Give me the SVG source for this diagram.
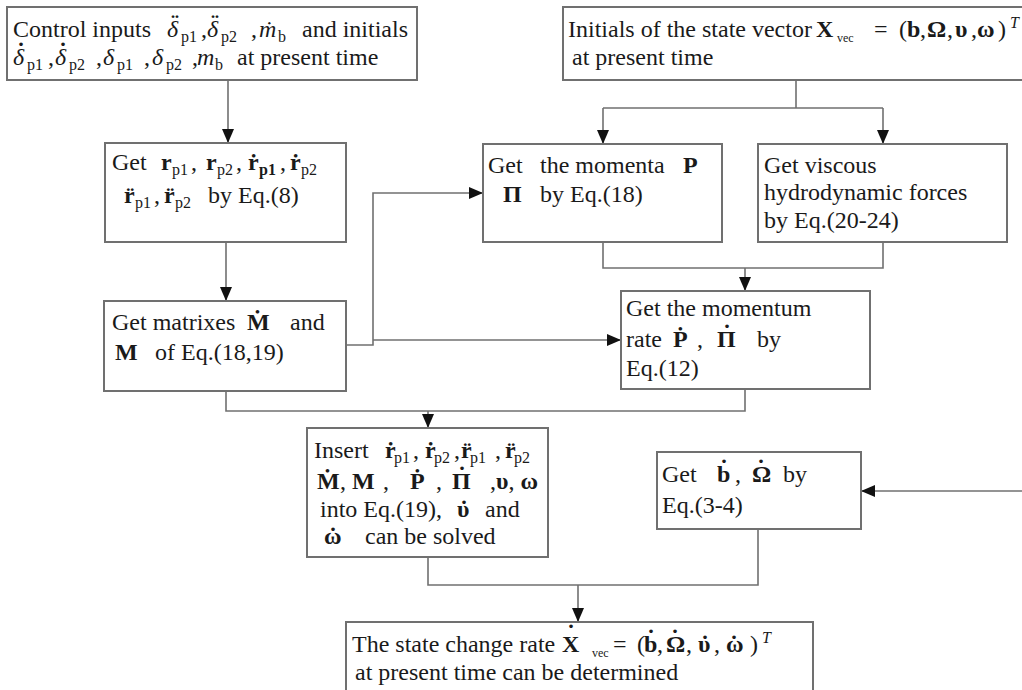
<svg xmlns="http://www.w3.org/2000/svg" width="1022" height="690" viewBox="0 0 1022 690" xml:space="preserve">
<style>
.box{fill:#fff;stroke:#707070;stroke-width:2}
.conn{fill:none;stroke:#707070;stroke-width:1.6}
text{font-family:"Liberation Serif","Times New Roman",serif;font-size:24px;fill:#1a1a1a}
.b{font-weight:bold}
.i{font-style:italic}
.s{font-size:16px}
.t{font-size:12px}
.acc{text-anchor:middle;font-weight:bold}
</style>
<defs>
<marker id="ah" viewBox="0 0 14 12" refX="14" refY="6" markerWidth="14" markerHeight="12" markerUnits="userSpaceOnUse" orient="auto"><path d="M0,0 L14,6 L0,12 z" fill="#111"/></marker>
</defs>
<g id="connectors">
<path class="conn" d="M228,80 V143" marker-end="url(#ah)"/>
<path class="conn" d="M796,80 V108 M603,108 H883"/>
<path class="conn" d="M603,108 V144" marker-end="url(#ah)"/>
<path class="conn" d="M883,108 V144" marker-end="url(#ah)"/>
<path class="conn" d="M226,242 V301" marker-end="url(#ah)"/>
<path class="conn" d="M346,345 H373 V193 H483" marker-end="url(#ah)"/>
<path class="conn" d="M373,340 H621" marker-end="url(#ah)"/>
<path class="conn" d="M603,242 V268 H883 V242"/>
<path class="conn" d="M745,268 V291" marker-end="url(#ah)"/>
<path class="conn" d="M226,391 V411 H745 V389"/>
<path class="conn" d="M428,411 V428" marker-end="url(#ah)"/>
<path class="conn" d="M1022,491 H861" marker-end="url(#ah)"/>
<path class="conn" d="M428,557 V585 H758 V529"/>
<path class="conn" d="M578,585 V622" marker-end="url(#ah)"/>
</g>
<g id="n1">
<rect class="box" x="7" y="7" width="410" height="73"/>
<text y="37"><tspan x="13">Control inputs</tspan><tspan x="167" class="i">δ</tspan><tspan x="181" class="s" dy="5">p1</tspan><tspan x="201" dy="-5">,</tspan><tspan x="207" class="i">δ</tspan><tspan x="221" class="s" dy="5">p2</tspan><tspan x="251" dy="-5">,</tspan><tspan x="259" class="i">ṁ</tspan><tspan x="278" class="s" dy="5">b</tspan><tspan x="302" dy="-5">and initials</tspan><tspan class="acc" x="175" y="31">¨</tspan><tspan class="acc" x="215" y="31">¨</tspan></text>
<text y="65"><tspan x="13" class="i">δ</tspan><tspan x="27" class="s" dy="5">p1</tspan><tspan x="48" dy="-5">,</tspan><tspan x="55" class="i">δ</tspan><tspan x="69" class="s" dy="5">p2</tspan><tspan x="96" dy="-5">,</tspan><tspan x="103" class="i">δ</tspan><tspan x="117" class="s" dy="5">p1</tspan><tspan x="144" dy="-5">,</tspan><tspan x="152" class="i">δ</tspan><tspan x="166" class="s" dy="5">p2</tspan><tspan x="192" dy="-5">,</tspan><tspan x="197" class="i">m</tspan><tspan x="215" class="s" dy="5">b</tspan><tspan x="237" dy="-5">at present time</tspan><tspan class="acc" x="21" y="59">˙</tspan><tspan class="acc" x="63" y="59">˙</tspan></text>
</g>
<g id="n2">
<rect class="box" x="563" y="7" width="470" height="73"/>
<text y="37"><tspan x="568">Initials of the state vector</tspan><tspan x="816" class="b">X</tspan><tspan x="837" class="t" dy="5">vec</tspan><tspan x="874" dy="-5">=</tspan><tspan x="899">(</tspan><tspan x="907" class="b">b</tspan><tspan x="920">,</tspan><tspan x="927" class="b">Ω</tspan><tspan x="947">,</tspan><tspan x="955" class="b">υ</tspan><tspan x="971">,</tspan><tspan x="977" class="b">ω</tspan><tspan x="998">)</tspan><tspan x="1010" class="i s" dy="-9">T</tspan></text>
<text y="65"><tspan x="572">at present time</tspan></text>
</g>
<g id="n3">
<rect class="box" x="105" y="143" width="241" height="99"/>
<text y="170"><tspan x="112">Get</tspan><tspan x="161" class="b">r</tspan><tspan x="172" class="s" dy="5">p1</tspan><tspan x="191" dy="-5">,</tspan><tspan x="206" class="b">r</tspan><tspan x="217" class="s" dy="5">p2</tspan><tspan x="236" dy="-5">,</tspan><tspan x="248" class="b">ṙ</tspan><tspan x="259" class="s b" dy="5">p1</tspan><tspan x="280" dy="-5">,</tspan><tspan x="290" class="b">ṙ</tspan><tspan x="301" class="s" dy="5">p2</tspan></text>
<text y="203"><tspan x="124" class="b">r̈</tspan><tspan x="135" class="s" dy="5">p1</tspan><tspan x="154" dy="-5">,</tspan><tspan x="164" class="b">r̈</tspan><tspan x="175" class="s" dy="5">p2</tspan><tspan x="208" dy="-5">by Eq.(8)</tspan></text>
</g>
<g id="n4">
<rect class="box" x="104" y="301" width="242" height="90"/>
<text y="330"><tspan x="112">Get matrixes</tspan><tspan x="247" class="b">Ṁ</tspan><tspan x="290">and</tspan></text>
<text y="360"><tspan x="115" class="b">M</tspan><tspan x="155">of Eq.(18,19)</tspan></text>
</g>
<g id="n5">
<rect class="box" x="483" y="144" width="239" height="98"/>
<text y="173"><tspan x="488">Get</tspan><tspan x="540">the momenta</tspan><tspan x="683" class="b">P</tspan></text>
<text y="202"><tspan x="503" class="b">Π</tspan><tspan x="540">by Eq.(18)</tspan></text>
</g>
<g id="n6">
<rect class="box" x="758" y="144" width="249" height="98"/>
<text x="764" y="173">Get viscous</text>
<text x="764" y="200">hydrodynamic forces</text>
<text x="764" y="228">by Eq.(20-24)</text>
</g>
<g id="n7">
<rect class="box" x="621" y="291" width="249" height="98"/>
<text x="626" y="316">Get the momentum</text>
<text y="347"><tspan x="626">rate</tspan><tspan x="673" class="b">Ṗ</tspan><tspan x="697">,</tspan><tspan x="717" class="b">Π</tspan><tspan x="757">by</tspan><tspan class="acc" x="727" y="341">˙</tspan></text>
<text x="626" y="376">Eq.(12)</text>
</g>
<g id="n8">
<rect class="box" x="307" y="428" width="241" height="129"/>
<text y="458"><tspan x="314">Insert</tspan><tspan x="385" class="b">ṙ</tspan><tspan x="394" class="s" dy="5">p1</tspan><tspan x="413" dy="-5">,</tspan><tspan x="425" class="b">ṙ</tspan><tspan x="434" class="s" dy="5">p2</tspan><tspan x="454" dy="-5">,</tspan><tspan x="461" class="b">r̈</tspan><tspan x="470" class="s" dy="5">p1</tspan><tspan x="495" dy="-5">,</tspan><tspan x="505" class="b">r̈</tspan><tspan x="514" class="s" dy="5">p2</tspan></text>
<text y="489"><tspan x="317" class="b">Ṁ</tspan><tspan x="340">,</tspan><tspan x="352" class="b">M</tspan><tspan x="383">,</tspan><tspan x="410" class="b">Ṗ</tspan><tspan x="436">,</tspan><tspan x="452" class="b">Π</tspan><tspan x="490">,</tspan><tspan class="b">υ</tspan><tspan>,</tspan><tspan class="b"> ω</tspan><tspan class="acc" x="462" y="483">˙</tspan></text>
<text y="517"><tspan x="320">into Eq.(19),</tspan><tspan x="457" class="b">υ</tspan><tspan x="485">and</tspan><tspan class="acc" x="464" y="517">˙</tspan></text>
<text y="544"><tspan x="324" class="b">ω</tspan><tspan x="365">can be solved</tspan><tspan class="acc" x="333" y="544">˙</tspan></text>
</g>
<g id="n9">
<rect class="box" x="657" y="452" width="204" height="77"/>
<text y="482"><tspan x="662">Get</tspan><tspan x="717" class="b">b</tspan><tspan x="735">,</tspan><tspan x="752" class="b">Ω</tspan><tspan x="783">by</tspan><tspan class="acc" x="724" y="476">˙</tspan><tspan class="acc" x="761" y="476">˙</tspan></text>
<text x="662" y="513">Eq.(3-4)</text>
</g>
<g id="n10">
<rect class="box" x="346" y="622" width="467" height="80"/>
<text y="652"><tspan x="352">The state change rate</tspan><tspan x="562" class="b">X</tspan><tspan x="592" class="t" dy="5">vec</tspan><tspan x="613" dy="-5">=</tspan><tspan x="637">(</tspan><tspan x="644" class="b">b</tspan><tspan x="657">,</tspan><tspan x="666" class="b">Ω</tspan><tspan x="686">,</tspan><tspan x="698" class="b">υ</tspan><tspan x="714">,</tspan><tspan x="726" class="b">ω</tspan><tspan x="750">)</tspan><tspan x="762" class="i s" dy="-9">T</tspan><tspan class="acc" x="571" y="641">˙</tspan><tspan class="acc" x="651" y="646">˙</tspan><tspan class="acc" x="675" y="646">˙</tspan><tspan class="acc" x="705" y="652">˙</tspan><tspan class="acc" x="734" y="652">˙</tspan></text>
<text x="355" y="680">at present time can be determined</text>
</g>
</svg>
